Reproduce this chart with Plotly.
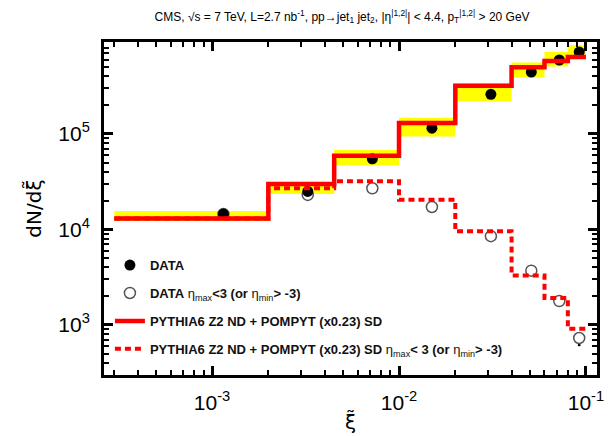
import math
import plotly.graph_objects as go

# ---- data ----
bin_edges = [3.0e-4, 2.0e-3, 4.5e-3, 1.0e-2, 2.0e-2, 4.0e-2, 6.0e-2, 8.0e-2, 1.0e-1]
mc_all = [1.3e4, 3.0e4, 5.9e4, 1.3e5, 3.2e5, 5.0e5, 5.8e5, 6.4e5]
mc_gap = [1.3e4, 2.7e4, 3.2e4, 2.05e4, 9.6e3, 3.3e3, 1.92e3, 910]
band_lo = [1.23e4, 2.35e4, 4.7e4, 9.4e4, 2.2e5, 3.9e5, 5.1e5, 6.3e5]
band_hi = [1.56e4, 3.0e4, 6.8e4, 1.48e5, 3.4e5, 5.6e5, 7.2e5, 8.5e5]
data_x = [1.15e-3, 3.25e-3, 7.2e-3, 1.5e-2, 3.1e-2, 5.1e-2, 7.2e-2, 9.2e-2]
data_all = [1.45e4, 2.5e4, 5.5e4, 1.15e5, 2.6e5, 4.45e5, 5.95e5, 7.2e5]
data_all_err = [1.8e3, 2.5e3, 4.5e3, 9e3, 2e4, 3.2e4, 4.2e4, 5e4]
data_gap = [1.45e4, 2.3e4, 2.7e4, 1.72e4, 8.5e3, 3.7e3, 1.78e3, 730]
data_gap_err_up = [5e2, 6e2, 6e2, 4e2, 2e2, 1e2, 60, 40]
data_gap_err_dn = [5e2, 6e2, 6e2, 4e2, 2e2, 1e2, 80, 130]
x_ticks = [1e-3, 1e-2, 1e-1]
y_ticks = [1e3, 1e4, 1e5]
x_range_log = [-3.578, -0.941]
y_range_log = [2.476, 5.963]


def pow_label(v):
    return "10<sup>%d</sup>" % round(math.log10(v))


def minor_vals(lo_exp, hi_exp):
    out = []
    for e in range(lo_exp, hi_exp + 1):
        for m in range(2, 10):
            out.append(m * 10.0 ** e)
    return out


fig = go.Figure()

# yellow uncertainty band (one rectangle per bin)
bx, by = [], []
for i in range(len(mc_all)):
    x0, x1 = bin_edges[i], bin_edges[i + 1]
    bx += [x0, x1, x1, x0, x0, None]
    by += [band_lo[i], band_lo[i], band_hi[i], band_hi[i], band_lo[i], None]
fig.add_trace(go.Scatter(x=bx, y=by, fill="toself", fillcolor="#ffff00",
                         line=dict(width=0), mode="lines", showlegend=False,
                         hoverinfo="skip"))

fig.add_trace(go.Scatter(
    x=data_x, y=data_gap, mode="markers",
    marker=dict(symbol="circle", size=11, color="white", line=dict(width=1.5, color="#555555")),
    error_y=dict(type="data", symmetric=False, array=data_gap_err_up,
                 arrayminus=data_gap_err_dn, color="black", thickness=2.5, width=0),
    name="<b>DATA</b> η<sub>max</sub><b><3 (or </b>η<sub>min</sub><b>> -3)</b>",
    legendgroup="b", legendrank=2))

fig.add_trace(go.Scatter(
    x=data_x, y=data_all, mode="markers",
    marker=dict(symbol="circle", size=11, color="black"),
    error_y=dict(type="data", array=data_all_err, color="black", thickness=2, width=0),
    name="<b>DATA</b>", legendgroup="a", legendrank=1))

fig.add_trace(go.Scatter(
    x=bin_edges, y=mc_all + [mc_all[-1]], mode="lines", line_shape="hv",
    line=dict(color="#ff0000", width=4.5),
    name="<b>PYTHIA6 Z2 ND + POMPYT (x0.23) SD</b>", legendgroup="c", legendrank=3))

fig.add_trace(go.Scatter(
    x=bin_edges, y=mc_gap + [mc_gap[-1]], mode="lines", line_shape="hv",
    line=dict(color="#ff0000", width=4, dash="6px,4px"),
    name="<b>PYTHIA6 Z2 ND + POMPYT (x0.23) SD </b>η<sub>max</sub><b>< 3 (or </b>η<sub>min</sub><b>> -3)</b>",
    legendgroup="d", legendrank=4))

axis_common = dict(
    showline=True, linecolor="black", linewidth=3, mirror="ticks",
    ticks="inside", ticklen=9, tickwidth=3, tickcolor="black",
    showgrid=False, zeroline=False, ticklabelstandoff=7,
    tickfont=dict(family="Liberation Sans, Arial", size=21, color="black"),
)

fig.update_xaxes(type="log", range=x_range_log, tickmode="array",
                 tickvals=x_ticks, ticktext=[pow_label(v) for v in x_ticks],
                 title=dict(text="ξ̃", font=dict(family="DejaVu Sans", size=20, color="black"),
                            standoff=2),
                 **axis_common)
fig.update_yaxes(type="log", range=y_range_log, tickmode="array",
                 tickvals=y_ticks, ticktext=[pow_label(v) for v in y_ticks],
                 title=dict(text="dN/dξ̃", font=dict(family="DejaVu Sans", size=20, color="black"),
                            standoff=12),
                 **axis_common)

# minor tick axes (overlaid, no labels)
minor_common = dict(showline=False, ticks="inside", ticklen=5, tickwidth=2,
                    tickcolor="black", showgrid=False, zeroline=False,
                    showticklabels=False, mirror="ticks", tickmode="array")
fig.update_layout(
    xaxis2=dict(type="log", range=x_range_log, overlaying="x", side="bottom",
                anchor="y", tickvals=minor_vals(-4, -1), **minor_common),
    yaxis2=dict(type="log", range=y_range_log, overlaying="y", side="left",
                anchor="x", tickvals=minor_vals(2, 5), **minor_common),
)
fig.add_trace(go.Scatter(x=[None], y=[None], xaxis="x2", yaxis="y2",
                         showlegend=False, hoverinfo="skip"))

fig.update_layout(
    width=613, height=436,
    margin=dict(l=96, r=24, t=34, b=69),
    paper_bgcolor="white", plot_bgcolor="white",
    title=dict(text="CMS, √s = 7 TeV, L=2.7 nb<sup>-1</sup>, pp→jet<sub>1</sub> jet<sub>2</sub>, |η<sup>|1,2|</sup>| < 4.4, p<sub>T</sub><sup>|1,2|</sup> > 20 GeV",
               x=0.545, xanchor="center", y=0.99, yanchor="top",
               font=dict(family="Liberation Sans, Arial", size=12, color="black")),
    legend=dict(x=0.012, y=0.375, xanchor="left", yanchor="top",
                bgcolor="rgba(0,0,0,0)", tracegroupgap=8,
                font=dict(family="Liberation Sans, Arial", size=13, color="#111111")),
    showlegend=True,
)

fig.write_html("out.html")
